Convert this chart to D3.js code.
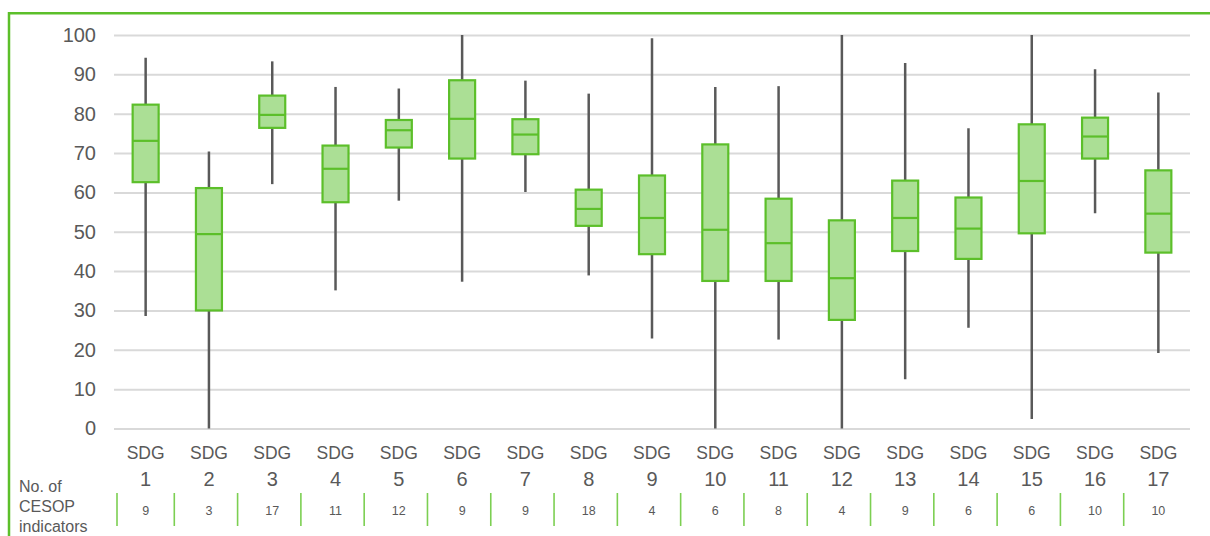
<!DOCTYPE html>
<html>
<head>
<meta charset="utf-8">
<script src="https://cdn.jsdelivr.net/npm/d3@7"></script>
<style>
  html, body { margin: 0; padding: 0; background: #fff; }
  svg { display: block; font-family: "Liberation Sans", Arial, sans-serif; }
</style>
</head>
<body>
<svg id="chart" width="1210" height="536"></svg>
<script>
// ---- data ----
const categories = ["1","2","3","4","5","6","7","8","9","10","11","12","13","14","15","16","17"];
const minValues    = [28.6, 0,    62.1, 35.1, 57.9, 37.3, 60.1, 38.9, 22.9, 0,    22.6, 0,    12.5, 25.6, 2.4,  54.7, 19.2];
const q1Values     = [62.6, 30.0, 76.4, 57.5, 71.4, 68.6, 69.7, 51.5, 44.3, 37.5, 37.5, 27.6, 45.1, 43.1, 49.6, 68.6, 44.7];
const medianValues = [73.1, 49.4, 79.7, 66.0, 75.8, 78.7, 74.7, 55.8, 53.5, 50.5, 47.1, 38.2, 53.5, 50.8, 62.9, 74.2, 54.6];
const q3Values     = [82.3, 61.1, 84.6, 71.9, 78.4, 88.5, 78.6, 60.7, 64.3, 72.2, 58.4, 52.9, 63.0, 58.7, 77.3, 79.0, 65.6];
const maxValues    = [94.2, 70.4, 93.3, 86.8, 86.4, 100,  88.4, 85.1, 99.2, 86.8, 87.0, 100,  92.9, 76.3, 100,  91.3, 85.4];
const indicatorCounts = [9, 3, 17, 11, 12, 9, 9, 18, 4, 6, 8, 4, 9, 6, 6, 10, 10];
const yTicks = [0, 10, 20, 30, 40, 50, 60, 70, 80, 90, 100];
const rowLabelLines = ["No. of", "CESOP", "indicators"];

// ---- layout ----
const svg = d3.select("#chart");
const plot = { left: 114, right: 1190, top: 35, bottom: 428.5 };
const textColor = "#595959";
const green = "#5cbf2a";

const x = d3.scaleBand().domain(categories).range([plot.left, plot.right]).paddingInner(0).paddingOuter(0);
const y = d3.scaleLinear().domain([0, 100]).range([plot.bottom, plot.top]);

// outer frame (top and left edges visible)
svg.append("line").attr("x1", 9).attr("x2", 1210).attr("y1", 13.3).attr("y2", 13.3)
  .attr("stroke", green).attr("stroke-width", 2.5);
svg.append("line").attr("x1", 9).attr("x2", 9).attr("y1", 12).attr("y2", 536)
  .attr("stroke", green).attr("stroke-width", 2.5);

// gridlines + y axis
const yAxis = d3.axisLeft(y).tickValues(yTicks).tickSize(-(plot.right - plot.left)).tickPadding(18);
const gy = svg.append("g").attr("transform", `translate(${plot.left},0)`).call(yAxis);
gy.select(".domain").remove();
gy.selectAll(".tick line").attr("stroke", "#d9d9d9").attr("stroke-width", 2);
gy.selectAll(".tick text").attr("fill", textColor).attr("font-size", 20)
  .attr("font-family", "'Liberation Sans', Arial, sans-serif");

const data = categories.map((c, i) => ({
  cat: c, min: minValues[i], q1: q1Values[i], med: medianValues[i], q3: q3Values[i], max: maxValues[i], n: indicatorCounts[i]
}));

const boxW = 26;
const g = svg.append("g");
const cx = d => x(d.cat) + x.bandwidth() / 2;

// whiskers
g.selectAll("line.whisker").data(data).join("line").attr("class", "whisker")
  .attr("x1", cx).attr("x2", cx)
  .attr("y1", d => y(d.max)).attr("y2", d => y(d.min))
  .attr("stroke", "#595959").attr("stroke-width", 2.5);

// boxes
g.selectAll("rect.box").data(data).join("rect").attr("class", "box")
  .attr("x", d => cx(d) - boxW / 2).attr("width", boxW)
  .attr("y", d => y(d.q3)).attr("height", d => y(d.q1) - y(d.q3))
  .attr("fill", "#abdf95").attr("stroke", green).attr("stroke-width", 2.2);

// medians
g.selectAll("line.median").data(data).join("line").attr("class", "median")
  .attr("x1", d => cx(d) - boxW / 2).attr("x2", d => cx(d) + boxW / 2)
  .attr("y1", d => y(d.med)).attr("y2", d => y(d.med))
  .attr("stroke", green).attr("stroke-width", 2.2);

// x labels
const xl = svg.append("g");
xl.selectAll("text.sdg").data(data).join("text").attr("class", "sdg")
  .attr("x", cx).attr("y", 459).attr("text-anchor", "middle")
  .attr("font-size", 17.5).attr("fill", textColor).text("SDG");
xl.selectAll("text.num").data(data).join("text").attr("class", "num")
  .attr("x", cx).attr("y", 486).attr("text-anchor", "middle")
  .attr("font-size", 20).attr("fill", textColor).text(d => d.cat);

// indicator table
const tbl = svg.append("g");
tbl.selectAll("line.sep").data(data).join("line").attr("class", "sep")
  .attr("x1", (d, i) => i === 0 ? x(d.cat) + 3 : x(d.cat) - 3)
  .attr("x2", (d, i) => i === 0 ? x(d.cat) + 3 : x(d.cat) - 3)
  .attr("y1", 493).attr("y2", 526)
  .attr("stroke", "#7ccf52").attr("stroke-width", 1.6);
tbl.selectAll("text.cnt").data(data).join("text").attr("class", "cnt")
  .attr("x", cx).attr("y", 514.5).attr("text-anchor", "middle")
  .attr("font-size", 12.5).attr("fill", textColor).text(d => d.n);

svg.append("g").selectAll("text").data(rowLabelLines).join("text")
  .attr("x", 19).attr("y", (d, i) => 491.5 + i * 20)
  .attr("font-size", 16).attr("fill", textColor).text(d => d);
</script>
</body>
</html>
